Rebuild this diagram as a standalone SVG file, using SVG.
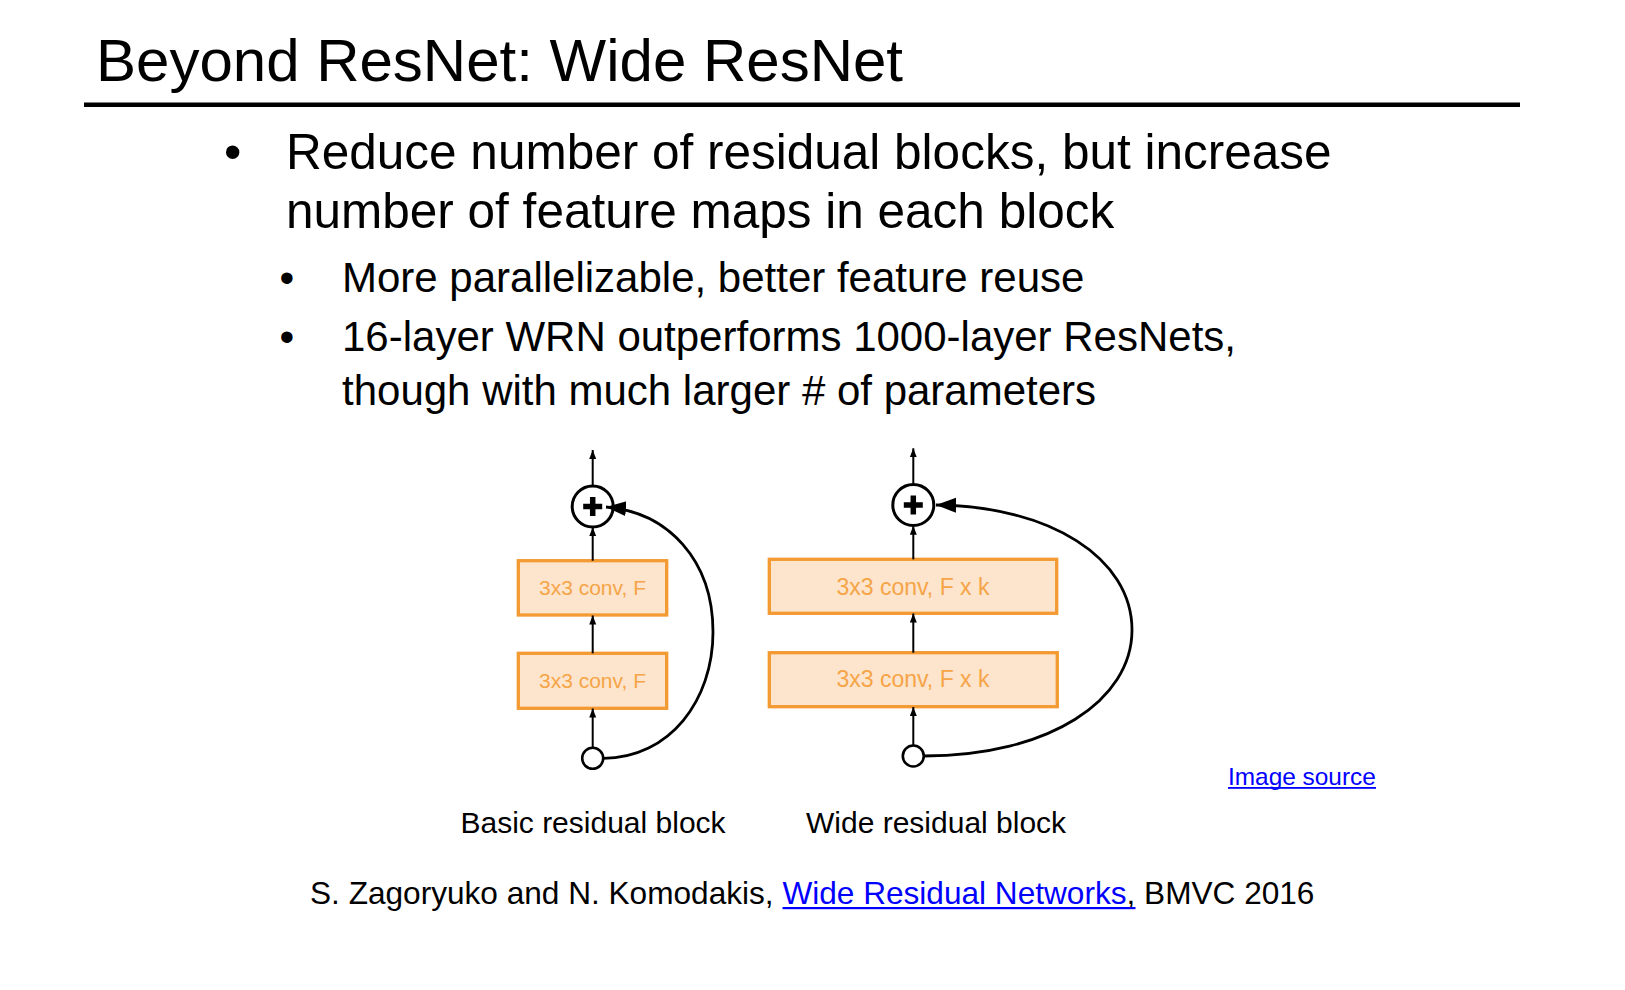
<svg xmlns="http://www.w3.org/2000/svg" width="1625" height="990" viewBox="0 0 1625 990">
  <style>
    text { font-family: "Liberation Sans", Arial, Helvetica, sans-serif; fill: #000; }
    .title { font-size: 60px; }
    .b1 { font-size: 49.5px; }
    .b2 { font-size: 42px; }
    .cap { font-size: 30px; }
    .cite { font-size: 31.6px; }
    .link { fill: #0000FF; }
    .conv rect { fill: #FDE4CC; stroke: #F39A32; stroke-width: 3.3; }
    .conv text { fill: #F5A447; text-anchor: middle; }
    .flow { stroke: #000; stroke-width: 2; fill: none; marker-end: url(#tip); }
    .skip { stroke: #000; stroke-width: 2.8; fill: none; marker-end: url(#bigtip); }
    .sum circle { fill: #fff; stroke: #000; stroke-width: 3; }
    .sum path { stroke: #000; stroke-width: 5.5; fill: none; }
    .src { fill: #fff; stroke: #000; stroke-width: 2.6; }
  </style>
  <defs>
    <marker id="tip" markerUnits="userSpaceOnUse" markerWidth="10" markerHeight="8" refX="9" refY="3.5" orient="auto">
      <path d="M0,0 L9,3.5 L0,7 z" fill="#000"/>
    </marker>
    <marker id="bigtip" markerUnits="userSpaceOnUse" markerWidth="22" markerHeight="16" refX="20" refY="7.5" orient="auto">
      <path d="M0,0 L20,7.5 L0,15 z" fill="#000"/>
    </marker>
  </defs>

  <rect width="1625" height="990" fill="#fff"/>

  <!-- heading -->
  <text class="title" x="96" y="81">Beyond ResNet: Wide ResNet</text>
  <rect x="84" y="102.5" width="1436" height="4.5" fill="#000"/>

  <!-- bullet list -->
  <text class="b1" x="224" y="169">•</text>
  <text class="b1" x="286" y="169">Reduce number of residual blocks, but increase</text>
  <text class="b1" x="286" y="228">number of feature maps in each block</text>
  <text class="b2" x="279.5" y="292">•</text>
  <text class="b2" x="342" y="292">More parallelizable, better feature reuse</text>
  <text class="b2" x="279.5" y="351">•</text>
  <text class="b2" x="342" y="351">16-layer WRN outperforms 1000-layer ResNets,</text>
  <text class="b2" x="342" y="405">though with much larger # of parameters</text>

  <!-- basic residual block -->
  <g id="basic-conv1" class="conv">
    <rect x="518.3" y="560.7" width="148.4" height="54.3"/>
    <text x="592.5" y="595" font-size="21">3x3 conv, F</text>
  </g>
  <g id="basic-conv2" class="conv">
    <rect x="518.3" y="653.3" width="148.4" height="55"/>
    <text x="592.5" y="687.5" font-size="21">3x3 conv, F</text>
  </g>
  <g id="basic-sum" class="sum">
    <circle cx="592.7" cy="506.5" r="20.5"/>
    <path d="M583.2,506.5 H602.2 M592.7,497 V516"/>
  </g>
  <g id="basic-input">
    <circle class="src" cx="592.7" cy="758.3" r="10.5"/>
  </g>

  <!-- wide residual block -->
  <g id="wide-conv1" class="conv">
    <rect x="769.3" y="559.3" width="287.4" height="54"/>
    <text x="913" y="594.5" font-size="23">3x3 conv, F x k</text>
  </g>
  <g id="wide-conv2" class="conv">
    <rect x="769.3" y="652.7" width="288" height="54"/>
    <text x="913" y="687" font-size="23">3x3 conv, F x k</text>
  </g>
  <g id="wide-sum" class="sum">
    <circle cx="913.3" cy="505" r="20.5"/>
    <path d="M903.8,505 H922.8 M913.3,495.5 V514.5"/>
  </g>
  <g id="wide-input">
    <circle class="src" cx="913.3" cy="756" r="10.5"/>
  </g>

  <!-- connectors -->
  <g id="connectors">
    <path class="flow" d="M592.7,486 V450"/>
    <path class="flow" d="M592.7,560.7 V527.2"/>
    <path class="flow" d="M592.7,653.3 V615.5"/>
    <path class="flow" d="M592.7,747.8 V708.5"/>
    <path class="skip" d="M603.2,758.3 C670,758 713,700 713,632 C713,560 668,512 606,507"/>

    <path class="flow" d="M913.3,484.5 V448.3"/>
    <path class="flow" d="M913.3,559.3 V525.7"/>
    <path class="flow" d="M913.3,652.7 V613.5"/>
    <path class="flow" d="M913.3,745.5 V707"/>
    <path class="skip" d="M923.8,756 C1050,756 1132,700 1132,630 C1132,558 1050,506 936,505"/>
  </g>

  <!-- captions -->
  <text class="cap" x="593" y="833" text-anchor="middle">Basic residual block</text>
  <text class="cap" x="806" y="833">Wide residual block</text>

  <text class="link" x="1228" y="784.5" font-size="24.4">Image source</text>
  <rect x="1228" y="787" width="148" height="1.8" fill="#0000FF"/>

  <text class="cite" x="310" y="904">S. Zagoryuko and N. Komodakis, <tspan class="link">Wide Residual Networks</tspan>, BMVC 2016</text>
  <rect x="782.5" y="907" width="353" height="2.2" fill="#0000FF"/>
</svg>
